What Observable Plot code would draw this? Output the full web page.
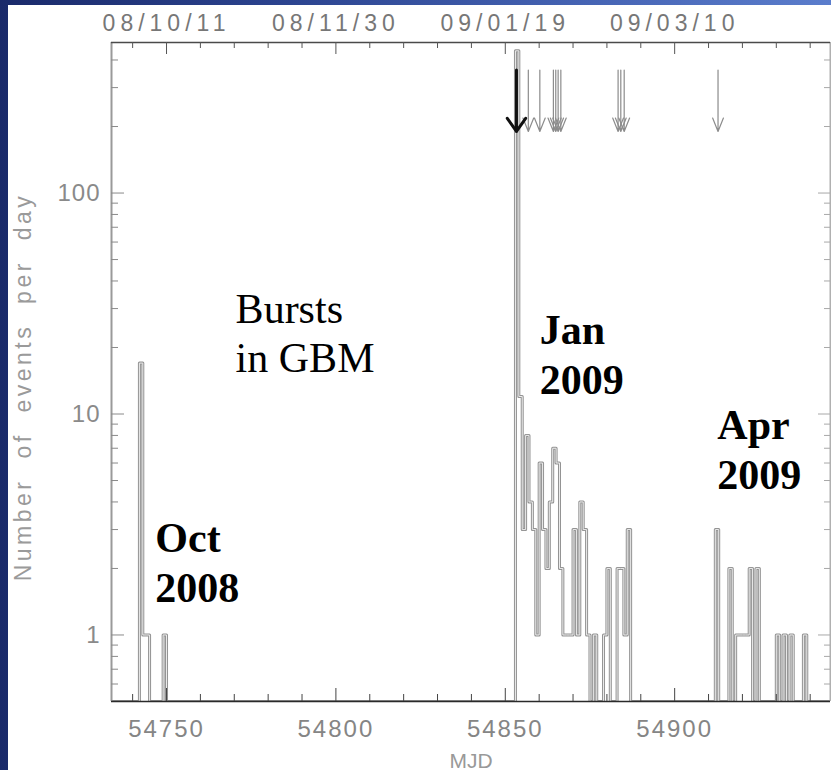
<!DOCTYPE html>
<html>
<head>
<meta charset="utf-8">
<script src="https://cdn.jsdelivr.net/npm/d3@7"></script>
<script src="https://cdn.jsdelivr.net/npm/@observablehq/plot@0.6"></script>
<style>
  html, body { margin: 0; padding: 0; }
  body {
    width: 831px; height: 770px; overflow: hidden; position: relative;
    background: linear-gradient(to right, #1a2a6a 0%, #2c4490 35%, #4563b3 70%, #5b7dcc 100%);
  }
  #panel { position: absolute; left: 8px; top: 5px; right: 0; bottom: 0; background: #fff; }
  #chart { position: absolute; left: 0; top: 0; }
</style>
</head>
<body>
<div id="panel"></div>
<div id="chart"></div>
<script>
// GBM events per day (days without events are omitted)
const burstDays = [
  54742, 54743, 54744, 54749,
  54853, 54854, 54855, 54856, 54857, 54858, 54859, 54860, 54861, 54862,
  54863, 54864, 54865, 54866, 54867, 54868, 54869, 54870, 54871, 54872,
  54873, 54874, 54876, 54879, 54880, 54883, 54884, 54885, 54886,
  54912, 54916, 54918, 54919, 54920, 54921, 54922, 54924,
  54930, 54932, 54934, 54938
];
const burstCounts = [
  17, 1, 1, 1,
  440, 12, 3, 8, 4, 3, 1, 6, 3, 2,
  4, 7, 6, 2, 1, 1, 1, 3, 1, 4,
  3, 1, 1, 1, 2, 2, 2, 1, 3,
  3, 2, 1, 1, 1, 1, 2, 2,
  1, 1, 1, 1
];

// trigger times marked with arrows (MJD)
const mainTrigger = [54853.3];
const otherTriggers = [54856.8, 54860.2, 54864.2, 54864.9, 54865.6, 54866.4, 54883.3, 54884.1, 54885.1, 54912.8];

// axis ticks
const majorDays = [54750, 54800, 54850, 54900];
const dateLabels = ["08/10/11", "08/11/30", "09/01/19", "09/03/10"];
const yTickValues = [1, 10, 100];

// text annotations
const noteTexts = ["Bursts\nin GBM", "Oct\n2008", "Jan\n2009", "Apr\n2009"];
const noteDays = [54770.4, 54746.7, 54860.2, 54912.6];
const noteCounts = [15.5, 1.41, 12.3, 4.6];
const noteBold = [false, true, true, true];

// layout
const W = 831, H = 770;
const mL = 111, mR = 1, mT = 42, mB = 69;
const frameW = W - mL - mR, frameH = H - mT - mB;
const xDomain = [54733.76, 54946];
const yDomain = [0.5, 480];

// daily series for the step outline
const countByDay = new Map(burstDays.map((d, i) => [d, burstCounts[i]]));
const daily = d3.range(Math.floor(xDomain[0]), Math.ceil(xDomain[1]) + 1)
  .map(day => ({day, n: countByDay.get(day) ?? 0}));
const yOf = d => d.n > 0 ? d.n : yDomain[0];

const minorDays = d3.range(54740, xDomain[1], 10).filter(d => d % 50 !== 0);
const yMinor = [];
for (const decade of [0.1, 1, 10, 100]) {
  for (let k = 2; k <= 9; k++) {
    const v = +(k * decade).toPrecision(3);
    if (v > yDomain[0] && v < yDomain[1]) yMinor.push(v);
  }
}

const notes = noteTexts.map((text, i) => ({text, day: noteDays[i], count: noteCounts[i], bold: noteBold[i]}));

const chart = Plot.plot({
  width: W, height: H,
  marginLeft: mL, marginRight: mR, marginTop: mT, marginBottom: mB,
  style: {background: "transparent", fontFamily: "Liberation Sans, Arial, sans-serif", overflow: "visible"},
  x: {domain: xDomain, axis: null},
  y: {type: "log", domain: yDomain, axis: null},
  marks: [
    // histogram outline, drawn as a grey double stroke
    Plot.line(daily, {x: "day", y: yOf, curve: "step-after", stroke: "#939393", strokeWidth: 3, clip: true}),
    Plot.line(daily, {x: "day", y: yOf, curve: "step-after", stroke: "#ececec", strokeWidth: 1, clip: true}),

    // frame
    Plot.ruleX([xDomain[0]], {stroke: "#9a9a9a", strokeWidth: 2}),
    Plot.ruleX([xDomain[1]], {stroke: "#b0b0b0", strokeWidth: 2}),
    Plot.ruleY([yDomain[1]], {stroke: "#4a4a4a", strokeWidth: 1.4}),
    Plot.ruleY([yDomain[0]], {stroke: "#2a2a2a", strokeWidth: 1.4}),

    // inward ticks, bottom and top
    Plot.ruleX(minorDays, {insetTop: frameH - 7, stroke: "#444"}),
    Plot.ruleX(majorDays, {insetTop: frameH - 13, stroke: "#444"}),
    Plot.ruleX(minorDays, {insetBottom: frameH - 6, stroke: "#555"}),
    Plot.ruleX(majorDays, {insetBottom: frameH - 12, stroke: "#555"}),
    // inward ticks, left and right
    Plot.ruleY(yMinor, {insetRight: frameW - 7, stroke: "#8a8a8a"}),
    Plot.ruleY(yTickValues, {insetRight: frameW - 13, stroke: "#8a8a8a"}),
    Plot.ruleY(yMinor, {insetLeft: frameW - 6, stroke: "#a8a8a8"}),
    Plot.ruleY(yTickValues, {insetLeft: frameW - 12, stroke: "#a8a8a8"}),

    // trigger arrows
    Plot.arrow(otherTriggers, {x: d => d, y1: 360, y2: 190, stroke: "#8c8c8c", strokeWidth: 1.2, headAngle: 44, headLength: 18}),
    Plot.arrow(mainTrigger, {x: d => d, y1: 360, y2: 190, stroke: "#111", strokeWidth: 3, headAngle: 70, headLength: 8}),

    // tick labels
    Plot.axisX(majorDays, {anchor: "top", tickSize: 0, tickPadding: 12, fontSize: 23, color: "#777",
      tickFormat: d => dateLabels[majorDays.indexOf(d)], label: null}),
    Plot.axisX(majorDays, {anchor: "bottom", tickSize: 0, tickPadding: 18.7, fontSize: 24, color: "#858585",
      tickFormat: d => `${d}`, label: null}),
    Plot.axisY(yTickValues, {anchor: "left", tickSize: 0, tickPadding: 11, fontSize: 24, color: "#8a8a8a",
      tickFormat: d => `${d}`, label: null}),

    // axis titles
    Plot.text(["MJD"], {text: d => d, frameAnchor: "bottom", dy: 66, lineAnchor: "bottom", fontSize: 21, fill: "#999"}),
    Plot.text(["Number of events per day"], {text: d => d, frameAnchor: "left", textAnchor: "middle", lineAnchor: "middle",
      dx: -88, dy: 15, rotate: -90, fontSize: 23, fill: "#9a9a9a"}),

    // annotations
    Plot.text(notes.filter(d => !d.bold), {x: "day", y: "count", text: "text", textAnchor: "start", lineAnchor: "bottom",
      lineHeight: 1.17, fontSize: 42, fontFamily: "Liberation Serif, Times New Roman, serif", fill: "#000"}),
    Plot.text(notes.filter(d => d.bold), {x: "day", y: "count", text: "text", textAnchor: "start", lineAnchor: "bottom",
      lineHeight: 1.19, fontSize: 42, fontWeight: "bold", fontFamily: "Liberation Serif, Times New Roman, serif", fill: "#000"})
  ]
});

document.getElementById("chart").append(chart);

// letter spacing for the wide axis lettering
const xLabelGroups = chart.querySelectorAll('g[aria-label="x-axis tick label"]');
if (xLabelGroups[0]) xLabelGroups[0].setAttribute("letter-spacing", "5");
if (xLabelGroups[1]) xLabelGroups[1].setAttribute("letter-spacing", "2");
chart.querySelectorAll('g[aria-label="y-axis tick label"]').forEach(g => g.setAttribute("letter-spacing", "1"));
chart.querySelectorAll("text").forEach(t => {
  if (t.textContent === "Number of events per day") {
    t.setAttribute("letter-spacing", "3.5");
    t.setAttribute("word-spacing", "10");
  }
});
</script>
</body>
</html>
